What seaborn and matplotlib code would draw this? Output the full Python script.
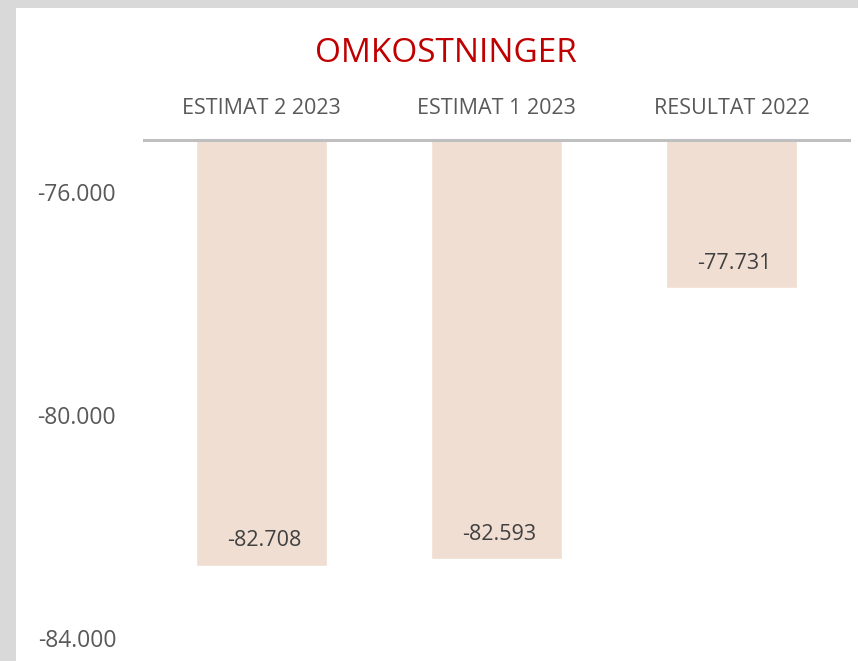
import matplotlib
matplotlib.use("Agg")
import matplotlib.pyplot as plt
import seaborn as sns
import pandas as pd
from matplotlib.patches import Rectangle
from matplotlib.ticker import FuncFormatter

# Data
categories = ["ESTIMAT 2 2023", "ESTIMAT 1 2023", "RESULTAT 2022"]
values = [-82708, -82593, -77731]
y_ticks = [-76000, -80000, -84000]

df = pd.DataFrame({"kategori": categories, "verdi": values})

sns.set_theme(style="white")
plt.rcParams["font.family"] = ["Open Sans", "DejaVu Sans"]

fig = plt.figure(figsize=(8.58, 6.61), dpi=100)
fig.patch.set_facecolor("#d9d9d9")
# white chart area (grey frame on left and top)
fig.patches.append(Rectangle((16 / 858, 0), 1 - 16 / 858, (661 - 8) / 661,
                             transform=fig.transFigure, facecolor="white",
                             edgecolor="none", zorder=-10))

ax = fig.add_axes([144 / 858, 0, 705 / 858, (661 - 139.5) / 661])
ax.set_facecolor("none")

sns.barplot(data=df, x="kategori", y="verdi", color="#f0ded3", width=0.555,
            saturation=1, ax=ax)

ax.set_ylim(-84412, -75067)
ax.set_xlim(-0.5, 2.5)
ax.set_yticks(y_ticks)
ax.yaxis.set_major_formatter(FuncFormatter(lambda v, p: f"{v:,.0f}".replace(",", ".")))
ax.xaxis.tick_top()
ax.tick_params(axis="x", length=0, pad=15, labelsize=15.5, labelcolor="#595959")
ax.tick_params(axis="y", length=0, pad=20, labelsize=16.5, labelcolor="#595959")
ax.set_xlabel("")
ax.set_ylabel("")

for s in ["left", "right", "bottom"]:
    ax.spines[s].set_visible(False)
ax.spines["top"].set_color("#bfbfbf")
ax.spines["top"].set_linewidth(2.2)

for i, v in enumerate(values):
    ax.annotate(f"{v:,.0f}".replace(",", "."), xy=(i, v), xytext=(2, 18),
                textcoords="offset points", ha="center", va="center",
                fontsize=15.5, color="#404040")

fig.text(446 / 858, (661 - 54) / 661, "OMKOSTNINGER", ha="center", va="center",
         fontsize=24, color="#c00000")

fig.savefig("out.png", dpi=100, facecolor=fig.get_facecolor())
